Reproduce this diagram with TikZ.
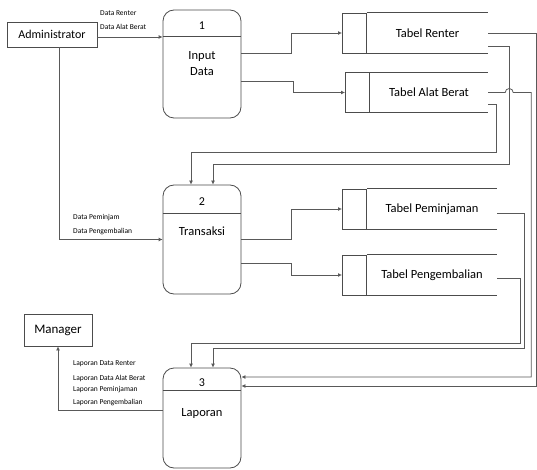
\documentclass[tikz,border=0pt]{standalone}
\usepackage{fontspec}
\setmainfont{Carlito}
\usepackage{tikz}
\usetikzlibrary{positioning}
\usetikzlibrary{calc}
\usetikzlibrary{arrows.meta}

\tikzset{
  entity/.style={draw, thick, gray!60!black, text=black, font=\fontsize{12}{14}\selectfont},
  process/.style={draw, thick, gray!60!black, fill=white, rounded corners=11pt, minimum width=78pt},
  store/.style={minimum height=40pt, font=\fontsize{12.5}{14}\selectfont},
  storeid/.style={draw, thick, gray!60!black, minimum width=24pt, minimum height=40pt},
  flowlabel/.style={anchor=west, inner sep=0pt, font=\fontsize{7.5}{9}\selectfont},
  flow/.style={thick, gray!70!black, -{Latex[length=4pt,width=4pt]}},
  num/.style={font=\fontsize{12}{14}\selectfont},
}

\begin{document}
\begin{tikzpicture}[x=1pt,y=-1pt]
\useasboundingbox (0,0) rectangle (537,470);

% Define nodes
\node[entity, minimum width=90pt, minimum height=25pt] (admin) at (52,34.5) {Administrator};
\node[entity, minimum width=68pt, minimum height=32pt, font=\fontsize{13}{15}\selectfont] (manager) at (58,330) {Manager};

\node[flowlabel] (lrenter) at (100,13) {Data Renter};
\node[flowlabel] (lalat) at (100,27) {Data Alat Berat};
\node[flowlabel] (lpinjam) at (73,218) {Data Peminjam};
\node[flowlabel] (lkembali) at (73,232) {Data Pengembalian};
\node[flowlabel] (lprenter) at (73,364) {Laporan Data Renter};
\node[flowlabel] (lpalat) at (73,378) {Laporan Data Alat Berat};
\node[flowlabel] (lppinjam) at (73,390) {Laporan Peminjaman};
\node[flowlabel] (lpkembali) at (73,403) {Laporan Pengembalian};

\node[process, minimum height=108pt] (p1) at (202,64) {};
\node[process, minimum height=109pt] (p2) at (202,239.5) {};
\node[process, minimum height=100pt] (p3) at (202,418) {};
\node[num] (n1) at ([yshift=-16pt]p1.north) {1};
\node[num] (n2) at ([yshift=-17pt]p2.north) {2};
\node[num] (n3) at ([yshift=-15pt]p3.north) {3};
\node[num, align=center, font=\fontsize{12.5}{16}\selectfont] (t1) at ([yshift=-54pt]p1.north) {Input\\Data};
\node[num, font=\fontsize{12.5}{14}\selectfont] (t2) at ([yshift=-47pt]p2.north) {Transaksi};
\node[num, font=\fontsize{12.5}{14}\selectfont] (t3) at ([yshift=-46pt]p3.north) {Laporan};
\draw[thick, gray!60!black] ([yshift=-27pt]p1.north west) -- ([yshift=-27pt]p1.north east);
\draw[thick, gray!60!black] ([yshift=-29pt]p2.north west) -- ([yshift=-29pt]p2.north east);
\draw[thick, gray!60!black] ([yshift=-23pt]p3.north west) -- ([yshift=-23pt]p3.north east);

\node[store, minimum width=121pt] (trenter) at (427.5,33) {Tabel Renter};
\node[store, minimum width=118pt] (talat) at (429,92.5) {Tabel Alat Berat};
\node[store, minimum width=130pt] (tpinjam) at (432,209) {Tabel Peminjaman};
\node[store, minimum width=130pt] (tkembali) at (432,275) {Tabel Pengembalian};
\node[storeid, left=0pt of trenter] (trenterid) {};
\node[storeid, left=0pt of talat] (talatid) {};
\node[storeid, left=0pt of tpinjam] (tpinjamid) {};
\node[storeid, left=0pt of tkembali] (tkembaliid) {};
\foreach \s in {trenter,talat,tpinjam,tkembali}
  \draw[thick, gray!60!black] (\s.north west) -- (\s.north east) (\s.south west) -- (\s.south east);

% Connect the nodes
\coordinate (o1a) at ([yshift=11pt]p1.east);
\coordinate (o1b) at ([yshift=-17pt]p1.east);
\coordinate (o2a) at (p2.east);
\coordinate (o2b) at ([yshift=-24pt]p2.east);
\draw[flow] ([yshift=-2.5pt]admin.east) -- ([yshift=-2.5pt]admin.east -| p1.west);
\draw[flow] ([xshift=7pt]admin.south) |- (p2.west);
\draw[flow] ([yshift=8pt]p3.west) -| (manager.south);
\draw[flow] (o1a) -| ($(o1a)!.5!(trenterid.west)$) |- (trenterid.west);
\draw[flow] (o1b) -| ($(o1b)!.5!(talatid.west)$) |- (talatid.west);
\draw[flow] (o2a) -| ($(o2a)!.5!(tpinjamid.west)$) |- (tpinjamid.west);
\draw[flow] (o2b) -| ($(o2b)!.5!(tkembaliid.west)$) |- (tkembaliid.west);

\draw[flow] ([yshift=-12pt]talat.east) -- ++(8,0) -- ++(0,48) -| ([xshift=-11pt]p2.north);
\draw[flow] ([yshift=-13pt]trenter.east) -- ++(21,0) -- ++(0,118) -| ([xshift=11pt]p2.north);
\draw[flow] (talat.east) -- ++(17,0) arc[start angle=180, end angle=0, radius=4pt] -- ++(18,0) |- ([yshift=41pt]p3.east);
\draw[flow] (trenter.east) -- ++(48,0) |- ([yshift=32pt]p3.east);
\draw[flow] ([yshift=-4pt]tpinjam.east) -- ++(27,0) -- ++(0,135) -| ([xshift=11pt]p3.north);
\draw[flow] ([yshift=-3pt]tkembali.east) -- ++(23,0) -- ++(0,65) -| ([xshift=-11pt]p3.north);
\end{tikzpicture}
\end{document}
